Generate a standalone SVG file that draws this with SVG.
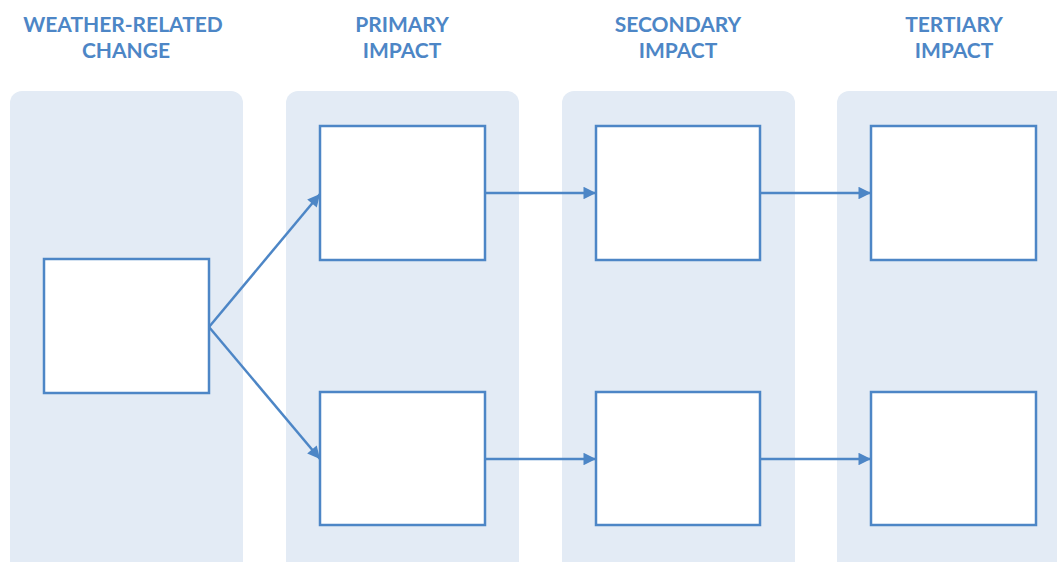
<svg xmlns="http://www.w3.org/2000/svg" width="1057" height="562" viewBox="0 0 1057 562">
<style>
.col{fill:#e3ebf5}
.box{fill:#fff;stroke:#4d86c6;stroke-width:2.5}
.hd{font-family:"Lato","Liberation Sans",sans-serif;font-weight:bold;font-size:21px;fill:#4d86c6;text-anchor:middle}
.ln{stroke:#4d86c6;stroke-width:2.5;fill:none;marker-end:url(#ah)}
</style>
<defs>
<marker id="ah" viewBox="0 0 10 10" refX="10" refY="5" markerWidth="6" markerHeight="5" markerUnits="strokeWidth" orient="auto">
<path d="M0,0 L10,5 L0,10 z" fill="#4d86c6"/>
</marker>
</defs>
<g id="columns">
<rect class="col" x="10" y="91" width="233" height="490" rx="12"/>
<rect class="col" x="286" y="91" width="233" height="490" rx="12"/>
<rect class="col" x="562" y="91" width="233" height="490" rx="12"/>
<rect class="col" x="837" y="91" width="233" height="490" rx="12"/>
</g>
<g id="headings">
<text class="hd" x="123" y="32">WEATHER-RELATED</text>
<text class="hd" x="126" y="58">CHANGE</text>
<text class="hd" x="402" y="32">PRIMARY</text>
<text class="hd" x="402" y="58">IMPACT</text>
<text class="hd" x="678" y="32">SECONDARY</text>
<text class="hd" x="678" y="58">IMPACT</text>
<text class="hd" x="954" y="32">TERTIARY</text>
<text class="hd" x="954" y="58">IMPACT</text>
</g>
<g id="connectors">
<line class="ln" x1="209" y1="327" x2="320" y2="194"/>
<line class="ln" x1="209" y1="327" x2="320" y2="459"/>
<line class="ln" x1="485" y1="193" x2="596" y2="193"/>
<line class="ln" x1="760" y1="193" x2="871" y2="193"/>
<line class="ln" x1="485" y1="459" x2="596" y2="459"/>
<line class="ln" x1="760" y1="459" x2="871" y2="459"/>
</g>
<g id="n-weather"><rect class="box" x="44" y="259" width="165" height="134"/></g>
<g id="n-primary1"><rect class="box" x="320" y="126" width="165" height="134"/></g>
<g id="n-primary2"><rect class="box" x="320" y="392" width="165" height="133"/></g>
<g id="n-secondary1"><rect class="box" x="596" y="126" width="164" height="134"/></g>
<g id="n-secondary2"><rect class="box" x="596" y="392" width="164" height="133"/></g>
<g id="n-tertiary1"><rect class="box" x="871" y="126" width="165" height="134"/></g>
<g id="n-tertiary2"><rect class="box" x="871" y="392" width="165" height="133"/></g>
</svg>
